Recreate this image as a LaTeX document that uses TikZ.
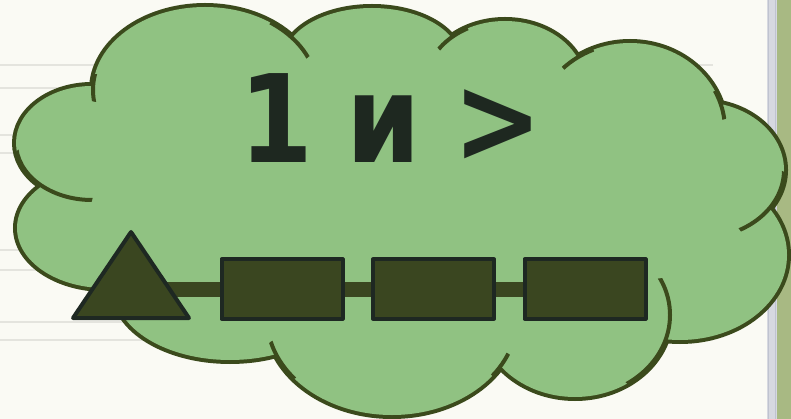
\documentclass[tikz,border=0pt]{standalone}
\usepackage{fontspec}
\newfontfamily\titlefont[FakeStretch=0.87]{DejaVu Sans}
\pgfdeclarelayer{back}
\pgfdeclarelayer{links}
\pgfsetlayers{back,links,main}
\definecolor{bgc}{HTML}{FAFAF4}
\definecolor{gridc}{HTML}{E4E4DE}
\definecolor{cloudfill}{HTML}{90C282}
\definecolor{cloudline}{HTML}{3B4A1C}
\definecolor{shapefill}{HTML}{3A4620}
\definecolor{shapeline}{HTML}{1E2822}
\definecolor{textc}{HTML}{1E2820}
\definecolor{barA}{HTML}{D6D8E0}
\definecolor{barB}{HTML}{BFC3CF}
\definecolor{barC}{HTML}{A8B983}
\tikzset{
  gridline/.style={draw=gridc, line width=2pt},
  tail/.style={draw=cloudline, line width=4pt},
  box/.style={draw=shapeline, fill=shapefill, line width=4pt, line join=round,
    minimum width=121pt, minimum height=59pt, inner sep=0pt, rectangle},
  link/.style={draw=shapefill, line width=15pt},
}
\newcommand{\bumpA}{(205,90) ellipse [x radius=112pt, y radius=83pt]}
\newcommand{\bumpB}{(372,60) ellipse [x radius=88pt, y radius=52pt]}
\newcommand{\bumpC}{(505,85) ellipse [x radius=80pt, y radius=64pt]}
\newcommand{\bumpD}{(630,130) ellipse [x radius=95pt, y radius=87pt]}
\newcommand{\bumpE}{(700,170) ellipse [x radius=84pt, y radius=68pt]}
\newcommand{\bumpF}{(680,255) ellipse [x radius=107pt, y radius=85pt]}
\newcommand{\bumpG}{(575,315) ellipse [x radius=95pt, y radius=82pt]}
\newcommand{\bumpH}{(392,318) ellipse [x radius=125pt, y radius=97pt]}
\newcommand{\bumpI}{(230,290) ellipse [x radius=115pt, y radius=70pt]}
\newcommand{\bumpJ}{(105,228) ellipse [x radius=88pt, y radius=60pt]}
\newcommand{\bumpK}{(92,143) ellipse [x radius=76pt, y radius=57pt]}
\newcommand{\bumpM}{(400,205) ellipse [x radius=285pt, y radius=115pt]}
\newcommand{\cloudpath}{\bumpA \bumpB \bumpC \bumpD \bumpE \bumpF \bumpG \bumpH \bumpI \bumpJ \bumpK}
\begin{document}
\begin{tikzpicture}[x=1pt, y=-1pt]
  \useasboundingbox (0,0) rectangle (791,419);
  \begin{pgfonlayer}{back}
  \fill[bgc] (0,0) rectangle (791,419);
  % faint background rules
  \foreach \yy in {135,153,250,270,322} { \draw[gridline] (0,\yy) -- (200,\yy); }
  \foreach \yy in {65,88,340} { \draw[gridline] (0,\yy) -- (713,\yy); }
  % right bar
  \fill[barA] (767,0) rectangle (777,419);
  \draw[barB, line width=1.5pt] (768.5,0) -- (768.5,419);
  \draw[barB, line width=1.5pt] (775.5,0) -- (775.5,419);
  \fill[barC] (777,0) rectangle (791,419);
  % cloud: outline then fill
  \draw[cloudline, line width=8pt] \cloudpath;
  \fill[cloudfill] \cloudpath \bumpM;
  % inner tails of the cloud bumps
  \begin{scope}\clip (97,88) circle [radius=14pt]; \draw[tail] \bumpA; \end{scope}
  \begin{scope}\clip (292,37) circle [radius=26pt]; \draw[tail] \bumpA; \end{scope}
  \begin{scope}\clip (452,37) circle [radius=18pt]; \draw[tail] \bumpC; \end{scope}
  \begin{scope}\clip (577,57) circle [radius=18pt]; \draw[tail] \bumpD; \end{scope}
  \begin{scope}\clip (720,105) circle [radius=15pt]; \draw[tail] \bumpD; \end{scope}
  \begin{scope}\clip (770,207) circle [radius=38pt]; \draw[tail] \bumpE; \end{scope}
  \begin{scope}\clip (666,338) circle [radius=60pt]; \draw[tail] \bumpG; \end{scope}
  \begin{scope}\clip (502,366) circle [radius=14pt]; \draw[tail] \bumpH; \end{scope}
  \begin{scope}\clip (283,360) circle [radius=22pt]; \draw[tail] \bumpH; \end{scope}
  \begin{scope}\clip (47,187) circle [radius=47pt]; \draw[tail] \bumpK; \end{scope}
  \end{pgfonlayer}
  % title
  \node[anchor=base, text=textc, inner sep=0pt] (title) at (391,163)
    {\titlefont\bfseries\fontsize{122}{122}\selectfont 1\hspace{-4pt} и\hspace{-4pt} >};
  % chain
  \coordinate (tc) at (131,289);
  \node[box] (r1) at (282,289) {};
  \node[box] (r2) at (433.5,289) {};
  \node[box] (r3) at (585,289) {};
  \begin{pgfonlayer}{links}
  \draw[link] (tc) -- (r1.center);
  \draw[link] (r1.center) -- (r2.center);
  \draw[link] (r2.center) -- (r3.center);
  \end{pgfonlayer}
  \coordinate (ta) at (131,232);
  \coordinate (tl) at (73,318);
  \coordinate (tr) at (189,318);
  \draw[draw=shapeline, fill=shapefill, line width=4pt, line join=round] (ta) -- (tl) -- (tr) -- cycle;
\end{tikzpicture}
\end{document}
